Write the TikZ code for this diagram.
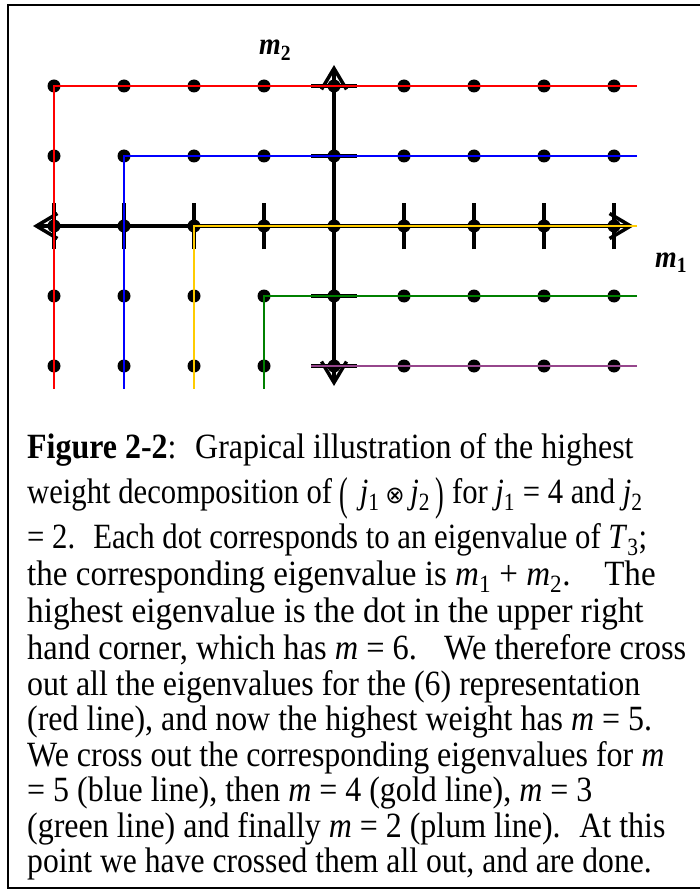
\documentclass[tikz,border=0pt]{standalone}
\usepackage{graphicx}
\usepackage{fontspec}
\setmainfont{Liberation Serif}[FakeStretch=0.9]
\newfontfamily\symfnt{DejaVu Sans}
\usetikzlibrary{arrows.meta}
\definecolor{goldc}{RGB}{255,204,0}
\definecolor{greenc}{RGB}{0,128,0}
\definecolor{plumc}{RGB}{150,70,140}
\newcommand{\bpar}[1]{\raisebox{-0.17em}{\scalebox{0.85}[1.3]{#1}}}
\begin{document}
\begin{tikzpicture}[x=1pt,y=-1pt,
  axisline/.style={line width=4pt,black,line cap=butt},
  tickline/.style={line width=4pt,black},
  cline/.style={line width=2pt},
  dotnode/.style={circle,fill=black,inner sep=0pt,minimum size=13pt},
  axlabel/.style={anchor=base west,inner sep=0pt,font=\fontsize{31}{31}\selectfont\bfseries\itshape},
  captxt/.style={anchor=base west,inner sep=0pt,font=\fontsize{35.5}{36}\selectfont},
  barb/.tip={Straight Barb[length=21pt,width=25pt,line width=3.5pt]}]
\useasboundingbox (0,0) rectangle (699,893);
% frame (right side lies outside the picture)
\draw[line width=2pt] (705,5) -- (7.5,5) -- (7.5,888) -- (705,888);
% grid coordinates
\foreach \i in {0,...,8}{
  \foreach \j in {0,...,4}{
    \coordinate (p\i\j) at ({54+70*\i},{86+70*\j});
  }
}
% axes
\coordinate (axL) at (33,226);
\coordinate (axR) at (634,226);
\coordinate (axT) at (334,65);
\coordinate (axB) at (334,386);
\draw[axisline,barb-barb] (axL) -- (axR);
\draw[axisline,barb-barb] (axB) -- (axT);
% ticks
\foreach \i in {0,1,2,3,5,6,7,8}{
  \draw[tickline] ([yshift=-23pt]p\i2) -- ([yshift=23pt]p\i2);
}
\foreach \j in {0,1,3,4}{
  \draw[tickline] ([xshift=-23pt]p4\j) -- ([xshift=23pt]p4\j);
}
% dots
\foreach \i in {0,...,8}{
  \foreach \j in {0,...,4}{
    \node[dotnode] (d\i\j) at (p\i\j) {};
  }
}
% coloured lines
\coordinate (redE) at (637,86);   \coordinate (redB) at (54,389);
\coordinate (bluE) at (637,156);  \coordinate (bluB) at (124,389);
\coordinate (golE) at (637,226);  \coordinate (golB) at (194,389);
\coordinate (griE) at (637,296);  \coordinate (griB) at (264,389);
\coordinate (pluE) at (637,366);  \coordinate (pluS) at (311,366);
\draw[cline,red] (redE) -- (p00) -- (redB);
\draw[cline,blue] (bluE) -- (p11) -- (bluB);
\draw[cline,goldc] (golE) -- (p22) -- (golB);
\draw[cline,greenc] (griE) -- (p33) -- (griB);
\draw[cline,plumc] (pluE) -- (pluS);
% axis labels
\node[axlabel] (lm2) at (259,55) {m\textsubscript{\upshape 2}};
\node[axlabel] (lm1) at (655,267) {m\textsubscript{\upshape 1}};
% caption
\node[captxt] (c1) at (27,458) {\textbf{Figure 2-2}:~ Grapical illustration of the highest};
\node[captxt,transform shape,xscale=0.96] (c2) at (27,503) {weight decomposition of \bpar{(}\,\,\textit{j}\textsubscript{1}\,{\symfnt\fontsize{24}{24}\selectfont ⊗}\,\textit{j}\textsubscript{2}\,\bpar{)} for \textit{j}\textsubscript{1} = 4 and \textit{j}\textsubscript{2}};
\node[captxt,transform shape,xscale=0.963] (c3) at (27,548) {= 2.~ Each dot corresponds to an eigenvalue of \textit{T}\textsubscript{3};};
\node[captxt,transform shape,xscale=1.035] (c4) at (27,585) {the corresponding eigenvalue is \textit{m}\textsubscript{1} + \textit{m}\textsubscript{2}.~\hspace{14pt} The};
\node[captxt,transform shape,xscale=1.04] (c5) at (27,622) {highest eigenvalue is the dot in the upper right};
\node[captxt,transform shape,xscale=1.015] (c6) at (27,659) {hand corner, which has \textit{m} = 6.~\hspace{8pt} We therefore cross};
\node[captxt] (c7) at (27,695) {out all the eigenvalues for the (6) representation};
\node[captxt] (c8) at (27,730) {(red line), and now the highest weight has \textit{m} = 5.};
\node[captxt] (c9) at (27,766) {We cross out the corresponding eigenvalues for \textit{m}};
\node[captxt] (c10) at (27,801) {= 5 (blue line), then \textit{m} = 4 (gold line), \textit{m} = 3};
\node[captxt] (c11) at (27,837) {(green line) and finally \textit{m} = 2 (plum line).~ At this};
\node[captxt,transform shape,xscale=0.99] (c12) at (27,872) {point we have crossed them all out, and are done.};
\end{tikzpicture}
\end{document}
